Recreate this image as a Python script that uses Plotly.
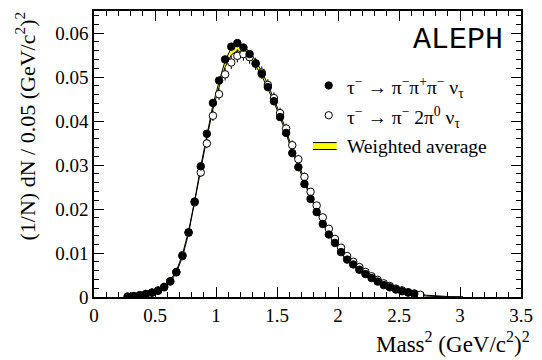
import plotly.graph_objects as go

# Bin centres of the squared-mass spectrum (bin width 0.05 (GeV/c^2)^2)
mass2_charged = [0.275, 0.325, 0.375, 0.425, 0.475, 0.525, 0.575, 0.625, 0.675, 0.725,
                 0.775, 0.825, 0.875, 0.925, 0.975, 1.025, 1.075, 1.125, 1.175, 1.225,
                 1.275, 1.325, 1.375, 1.425, 1.475, 1.525, 1.575, 1.625, 1.675, 1.725,
                 1.775, 1.825, 1.875, 1.925, 1.975, 2.025, 2.075, 2.125, 2.175, 2.225,
                 2.275, 2.325, 2.375, 2.425, 2.475, 2.525, 2.575, 2.625]
# tau- -> pi- pi+ pi- nu
dn_charged = [0.0001, 0.0002, 0.0004, 0.0007, 0.0010, 0.0014, 0.0023, 0.0036, 0.0057, 0.0093,
              0.0147, 0.0217, 0.0297, 0.0371, 0.0441, 0.0492, 0.0540, 0.0569, 0.0577, 0.0567,
              0.0552, 0.0531, 0.0507, 0.0477, 0.0445, 0.0409, 0.0373, 0.0327, 0.0295, 0.0257,
              0.0223, 0.0193, 0.0166, 0.0142, 0.0123, 0.0102, 0.0085, 0.0074, 0.0062, 0.0052,
              0.0043, 0.0035, 0.0027, 0.0022, 0.0017, 0.0013, 0.0010, 0.0007]
err_charged = [0.0001, 0.0001, 0.0001, 0.0001, 0.0001, 0.0002, 0.0002, 0.0002, 0.0003, 0.0003,
               0.0004, 0.0004, 0.0005, 0.0005, 0.0006, 0.0006, 0.0006, 0.0006, 0.0006, 0.0006,
               0.0006, 0.0006, 0.0006, 0.0006, 0.0005, 0.0005, 0.0005, 0.0005, 0.0005, 0.0004,
               0.0004, 0.0004, 0.0003, 0.0003, 0.0003, 0.0003, 0.0003, 0.0002, 0.0002, 0.0002,
               0.0002, 0.0002, 0.0002, 0.0001, 0.0001, 0.0001, 0.0001, 0.0001]

mass2_neutral = [0.325, 0.375, 0.425, 0.475, 0.525, 0.575, 0.625, 0.675, 0.725, 0.775,
                 0.825, 0.875, 0.925, 0.975, 1.025, 1.075, 1.125, 1.175, 1.225, 1.275,
                 1.325, 1.375, 1.425, 1.475, 1.525, 1.575, 1.625, 1.675, 1.725, 1.775,
                 1.825, 1.875, 1.925, 1.975, 2.025, 2.075, 2.125, 2.175, 2.225, 2.275,
                 2.325, 2.375, 2.425, 2.475, 2.525, 2.575, 2.625, 2.675]
# tau- -> pi- 2pi0 nu
dn_neutral = [0.0002, 0.0004, 0.0006, 0.0010, 0.0015, 0.0022, 0.0035, 0.0056, 0.0095, 0.0146,
              0.0215, 0.0283, 0.0349, 0.0412, 0.0461, 0.0506, 0.0533, 0.0548, 0.0552, 0.0545,
              0.0530, 0.0510, 0.0482, 0.0452, 0.0418, 0.0383, 0.0345, 0.0313, 0.0273, 0.0239,
              0.0208, 0.0181, 0.0155, 0.0132, 0.0112, 0.0093, 0.0080, 0.0068, 0.0057, 0.0047,
              0.0039, 0.0031, 0.0025, 0.0019, 0.0015, 0.0011, 0.0008, 0.0005]
err_neutral = [0.0001, 0.0002, 0.0002, 0.0003, 0.0003, 0.0004, 0.0005, 0.0006, 0.0007, 0.0008,
               0.0009, 0.0010, 0.0011, 0.0012, 0.0013, 0.0014, 0.0015, 0.0015, 0.0015, 0.0015,
               0.0014, 0.0014, 0.0013, 0.0013, 0.0012, 0.0011, 0.0011, 0.0010, 0.0010, 0.0009,
               0.0008, 0.0008, 0.0007, 0.0006, 0.0006, 0.0005, 0.0005, 0.0004, 0.0004, 0.0004,
               0.0003, 0.0003, 0.0003, 0.0002, 0.0002, 0.0002, 0.0002, 0.0001]

mass2_avg = [0.275, 0.325, 0.375, 0.425, 0.475, 0.525, 0.575, 0.625, 0.675, 0.725,
             0.775, 0.825, 0.875, 0.925, 0.975, 1.025, 1.075, 1.125, 1.175, 1.225,
             1.275, 1.325, 1.375, 1.425, 1.475, 1.525, 1.575, 1.625, 1.675, 1.725,
             1.775, 1.825, 1.875, 1.925, 1.975, 2.025, 2.075, 2.125, 2.175, 2.225,
             2.275, 2.325, 2.375, 2.425, 2.475, 2.525, 2.575, 2.625, 2.675, 2.725,
             2.775, 2.825, 2.875, 2.925, 2.975, 3.025]
# weighted average of the two channels and its uncertainty
dn_avg = [0.0001, 0.0002, 0.0004, 0.0007, 0.0010, 0.0014, 0.0023, 0.0036, 0.0057, 0.0094,
          0.0147, 0.0216, 0.0293, 0.0365, 0.0432, 0.0483, 0.0530, 0.0558, 0.0568, 0.0563,
          0.0550, 0.0531, 0.0508, 0.0478, 0.0447, 0.0412, 0.0376, 0.0332, 0.0300, 0.0262,
          0.0228, 0.0198, 0.0170, 0.0146, 0.0126, 0.0105, 0.0087, 0.0076, 0.0064, 0.0053,
          0.0044, 0.0036, 0.0028, 0.0023, 0.0018, 0.0014, 0.0010, 0.0007, 0.0005, 0.0003,
          0.0002, 0.0001, 0.0001, 0.00005, 0.00003, 0.00001]
err_avg = [0.00005, 0.0001, 0.0001, 0.0001, 0.0001, 0.0001, 0.0002, 0.0002, 0.0002, 0.0003,
           0.0003, 0.0003, 0.0004, 0.0004, 0.0005, 0.0006, 0.0007, 0.0008, 0.0008, 0.0008,
           0.0007, 0.0006, 0.0005, 0.0005, 0.0004, 0.0004, 0.0004, 0.0004, 0.0003, 0.0003,
           0.0003, 0.0003, 0.0003, 0.0002, 0.0002, 0.0002, 0.0002, 0.0002, 0.0002, 0.0002,
           0.0001, 0.0001, 0.0001, 0.0001, 0.0001, 0.0001, 0.0001, 0.0001, 0.0001, 0.0001,
           0.0001, 0.00005, 0.00005, 0.00003, 0.00002, 0.00001]

x_tick_vals = [0, 0.5, 1, 1.5, 2, 2.5, 3, 3.5]
x_tick_text = ["0", "0.5", "1", "1.5", "2", "2.5", "3", "3.5"]
y_tick_vals = [0, 0.01, 0.02, 0.03, 0.04, 0.05, 0.06]
y_tick_text = ["0", "0.01", "0.02", "0.03", "0.04", "0.05", "0.06"]

SERIF = "Liberation Serif"
MONO = "Courier New"

band_lo = [v - e for v, e in zip(dn_avg, err_avg)]
band_hi = [v + e for v, e in zip(dn_avg, err_avg)]

fig = go.Figure()

# weighted-average band: yellow fill with black edges
fig.add_trace(go.Scatter(x=mass2_avg, y=band_lo, mode="lines",
                         line=dict(color="black", width=1), showlegend=False,
                         hoverinfo="skip"))
fig.add_trace(go.Scatter(x=mass2_avg, y=band_hi, mode="lines", fill="tonexty",
                         fillcolor="#ffff00", line=dict(color="black", width=1),
                         showlegend=False, hoverinfo="skip"))

# open circles: pi- 2pi0 channel
fig.add_trace(go.Scatter(
    x=mass2_neutral, y=dn_neutral, mode="markers",
    marker=dict(symbol="circle", size=7.5, color="white",
                line=dict(color="black", width=1)),
    error_y=dict(type="data", array=err_neutral, visible=True,
                 color="black", thickness=1, width=0),
    showlegend=False))

# filled circles: pi- pi+ pi- channel
fig.add_trace(go.Scatter(
    x=mass2_charged, y=dn_charged, mode="markers",
    marker=dict(symbol="circle", size=7.5, color="black",
                line=dict(color="black", width=1)),
    error_y=dict(type="data", array=err_charged, visible=True,
                 color="black", thickness=1, width=0),
    showlegend=False))

# plot area in pixels: x 94..527, y 9..297
L, R, T, B = 94, 15, 9, 63
W, H = 542, 360
PW, PH = W - L - R, H - T - B


def px(xp):
    return (xp - L) / PW


def py(yp):
    return (H - B - yp) / PH


annotations = [
    dict(text="ALEPH", x=px(511), y=py(38), xanchor="right", yanchor="middle",
         font=dict(family=MONO, size=30, color="black")),
    dict(text="τ<sup>−</sup> → π<sup>−</sup>π<sup>+</sup>π<sup>−</sup> ν<sub>τ</sub>",
         x=px(349), y=py(86), xanchor="left", yanchor="middle",
         font=dict(family=SERIF, size=19.5, color="black")),
    dict(text="τ<sup>−</sup> → π<sup>−</sup> 2π<sup>0</sup> ν<sub>τ</sub>",
         x=px(349), y=py(116), xanchor="left", yanchor="middle",
         font=dict(family=SERIF, size=19.5, color="black")),
    dict(text="Weighted average",
         x=px(349), y=py(145), xanchor="left", yanchor="middle",
         font=dict(family=SERIF, size=19.5, color="black")),
    dict(text="(1/N) dN / 0.05 (GeV/c<sup>2</sup>)<sup>2</sup>", textangle=-90,
         x=px(24), y=py(7), xanchor="center", yanchor="top",
         font=dict(family=SERIF, size=22, color="black")),
    dict(text="Mass<sup>2</sup> (GeV/c<sup>2</sup>)<sup>2</sup>",
         x=px(538), y=py(359), xanchor="right", yanchor="bottom",
         font=dict(family=SERIF, size=23, color="black")),
]
for a in annotations:
    a.update(xref="paper", yref="paper", showarrow=False)

shapes = [
    # legend symbols
    dict(type="circle", x0=px(328.3), x1=px(335.7), y0=py(80.3), y1=py(87.7),
         fillcolor="black", line=dict(color="black", width=1)),
    dict(type="circle", x0=px(328.3), x1=px(335.7), y0=py(110.3), y1=py(117.7),
         fillcolor="white", line=dict(color="black", width=1)),
    dict(type="rect", x0=px(316), x1=px(340), y0=py(141.5), y1=py(148.5),
         fillcolor="#ffff00", line=dict(width=0)),
    dict(type="line", x0=px(316), x1=px(340), y0=py(141.5), y1=py(141.5),
         line=dict(color="black", width=1)),
    dict(type="line", x0=px(316), x1=px(340), y0=py(148.5), y1=py(148.5),
         line=dict(color="black", width=1)),
]
for s in shapes:
    s.update(xref="paper", yref="paper")

axis_common = dict(
    showgrid=False, zeroline=False, showline=True, linecolor="black", linewidth=1.5,
    mirror="ticks", ticks="inside", ticklen=10, tickwidth=1, tickcolor="black",
    tickfont=dict(family=SERIF, size=19, color="black"),
)

fig.update_layout(
    width=W, height=H, margin=dict(l=L, r=R, t=T, b=B),
    paper_bgcolor="white", plot_bgcolor="white",
    font=dict(family=SERIF, color="black"),
    xaxis=dict(range=[0, 3.5], tickmode="array", tickvals=x_tick_vals,
               ticktext=x_tick_text,
               minor=dict(dtick=0.1, tick0=0, ticks="inside", ticklen=5,
                          tickcolor="black", tickwidth=1, showgrid=False),
               **axis_common),
    yaxis=dict(range=[0, 0.065], tickmode="array", tickvals=y_tick_vals,
               ticktext=y_tick_text,
               minor=dict(dtick=0.002, tick0=0, ticks="inside", ticklen=5,
                          tickcolor="black", tickwidth=1, showgrid=False),
               **axis_common),
    annotations=annotations, shapes=shapes,
    showlegend=False,
)

fig.write_html("out.html")
